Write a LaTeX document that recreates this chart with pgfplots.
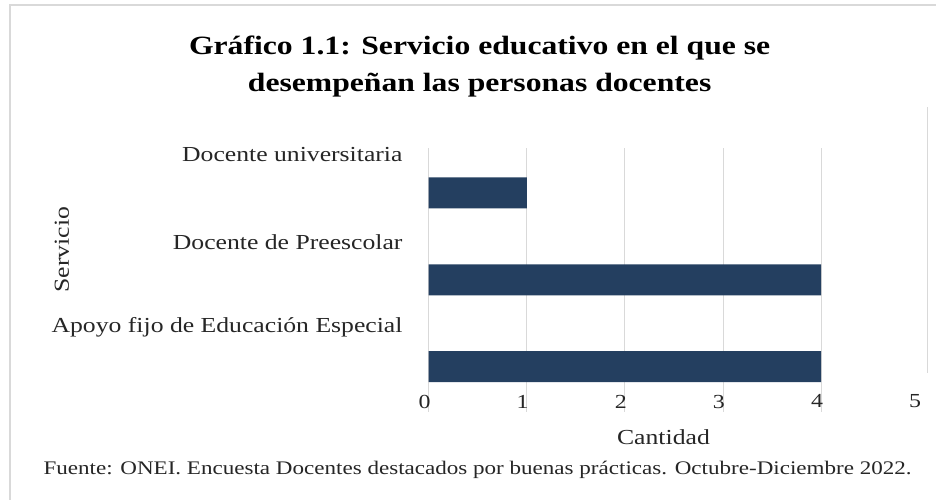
\documentclass[border=0pt]{standalone}
\usepackage{fontspec}
\setmainfont[FakeStretch=1.2]{Liberation Serif}
\usepackage{pgfplots}
\pgfplotsset{compat=1.18}
\definecolor{barc}{RGB}{36,63,96}
\definecolor{gridc}{RGB}{217,217,217}
\begin{document}
\begin{tikzpicture}[x=1bp,y=1bp]
\fill[white] (0,0) rectangle (937,500);
\draw[gridc, line width=1.5bp] (10,0) -- (10,495) -- (937,495);
\node[font=\bfseries\fontsize{26.5}{37}\selectfont, align=center] at (480,433.5) {Gráfico 1.1: Servicio educativo en el que se\\desempeñan las personas docentes};
\begin{axis}[
  at={(429bp,88bp)}, anchor=south west, scale only axis,
  width=491bp, height=264bp,
  xmin=0, xmax=5, ymin=0.483, ymax=3.517,
  clip=false,
  axis line style={draw=none},
  tick style={draw=none},
  xtick={0,1,2,3,4},
  extra x ticks={5},
  extra x tick style={grid=none},
  xmajorgrids,
  grid style={gridc, line width=1bp},
  /pgf/number format/assume math mode=true,
  xticklabel style={anchor=north east, inner sep=0pt, xshift=2bp, yshift=17bp, font=\fontsize{20}{24}\selectfont, text=black!85},
  ytick={1.448,2.437,3.437},
  yticklabels={Apoyo fijo de Educación Especial, Docente de Preescolar, Docente universitaria},
  yticklabel style={anchor=east, inner sep=0pt, xshift=-26bp, font=\fontsize{21.5}{24}\selectfont, text=black!85},
]
\addplot[xbar, fill=barc, draw=none, bar width=31bp] coordinates {(1,3) (4,2) (4,1)};
\draw[gridc, line width=1bp] (axis cs:5.08,0.93) -- (axis cs:5.08,3.99);
\end{axis}
\node[rotate=90, font=\fontsize{21.5}{24}\selectfont, text=black!85] at (62,250) {Servicio};
\node[font=\fontsize{21.5}{24}\selectfont, text=black!85] at (664,62) {Cantidad};
\node[font=\fontsize{19.3}{22}\selectfont, text=black!85] at (478,30) {Fuente: ONEI. Encuesta Docentes destacados por buenas prácticas. Octubre-Diciembre 2022.};
\end{tikzpicture}
\end{document}
